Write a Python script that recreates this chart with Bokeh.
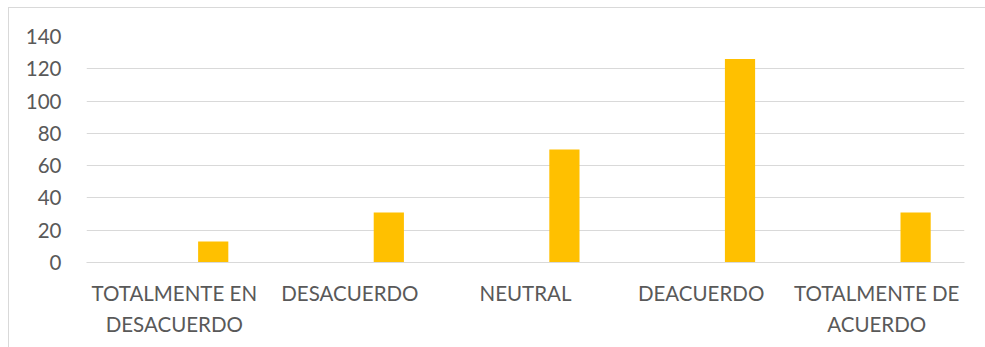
from bokeh.plotting import figure
from bokeh.models import Range1d, FixedTicker, ColumnDataSource
from bokeh.transform import dodge
from bokeh.embed import file_html
from bokeh.resources import INLINE

categories = ["TOTALMENTE EN\nDESACUERDO", "DESACUERDO", "NEUTRAL", "DEACUERDO", "TOTALMENTE DE\nACUERDO"]
values = [13, 31, 70, 126, 31]
y_ticks = [0, 20, 40, 60, 80, 100, 120, 140]

src = ColumnDataSource(dict(cat=categories, val=values))

p = figure(x_range=categories, y_range=Range1d(0, 140),
           width=977, height=340, output_backend="svg", toolbar_location=None,
           min_border_left=77, min_border_right=22, min_border_top=28, min_border_bottom=86)
p.margin = (7, 0, 0, 8)
p.styles = {"border-top": "1px solid #d9d9d9", "border-left": "1px solid #d9d9d9"}

p.vbar(x=dodge("cat", 0.2216, range=p.x_range), top="val", width=0.172, source=src,
       fill_color="#FFC000", line_color=None)

p.outline_line_color = None
p.background_fill_color = "white"
p.border_fill_color = "white"
p.xgrid.grid_line_color = None
p.ygrid.grid_line_color = "#d9d9d9"
p.ygrid.grid_line_width = 1
p.yaxis.ticker = FixedTicker(ticks=y_ticks)
p.x_range.range_padding = 0

for ax in (p.xaxis, p.yaxis):
    ax.major_tick_line_color = None
    ax.minor_tick_line_color = None
    ax.major_label_text_font = "Lato"
    ax.major_label_text_font_size = "20.5px"
    ax.major_label_text_color = "#595959"
p.yaxis.axis_line_color = None
p.xaxis.axis_line_color = "#d9d9d9"
p.yaxis.major_label_standoff = 19
p.xaxis.major_label_standoff = 12
p.xaxis.major_label_text_line_height = 1.3

open("out.html", "w").write(file_html(p, INLINE))
